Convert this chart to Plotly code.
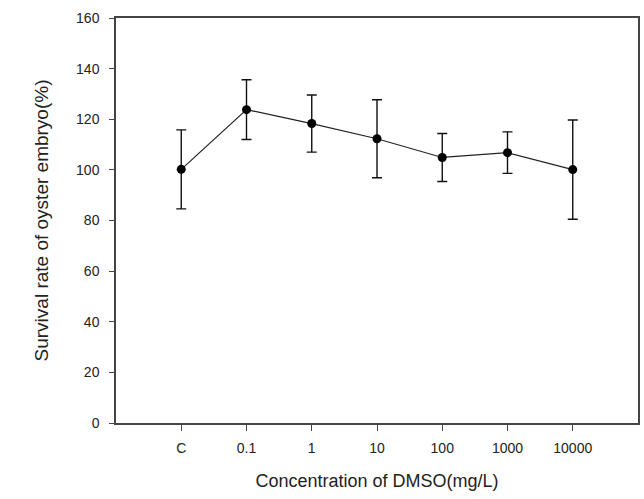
import plotly.graph_objects as go

categories = ["C", "0.1", "1", "10", "100", "1000", "10000"]
survival = [100.2, 123.8, 118.3, 112.3, 104.9, 106.8, 100.1]
err = [15.6, 11.8, 11.3, 15.4, 9.5, 8.2, 19.6]
y_ticks = [0, 20, 40, 60, 80, 100, 120, 140, 160]

font_family = "Liberation Sans, Arial, sans-serif"

fig = go.Figure()
fig.add_trace(go.Scatter(
    x=categories, y=survival,
    mode="lines+markers",
    line=dict(color="#222222", width=1.2),
    marker=dict(color="black", size=9, symbol="circle"),
    error_y=dict(type="data", array=err, visible=True, color="#111111",
                 thickness=1.4, width=5),
    showlegend=False,
))

fig.update_layout(
    width=644, height=499,
    margin=dict(l=116, r=6, t=18, b=76, autoexpand=False),
    paper_bgcolor="white", plot_bgcolor="white",
    font=dict(family=font_family, color="#222222", size=14),
    xaxis=dict(
        type="category", range=[-1, 7],
        showline=True, linecolor="#444444", linewidth=1.5, mirror=True,
        ticks="outside", ticklen=6, tickcolor="#444444", tickwidth=1.2,
        showgrid=False, zeroline=False,
        tickfont=dict(size=14, family=font_family, color="#222222"),
        ticklabelstandoff=5,
        title=dict(text="Concentration of DMSO(mg/L)",
                   font=dict(size=18, family=font_family, color="#222222"),
                   standoff=20),
    ),
    yaxis=dict(
        range=[0, 160], tickvals=y_ticks,
        showline=True, linecolor="#444444", linewidth=1.5, mirror=True,
        ticks="outside", ticklen=5, tickcolor="#444444", tickwidth=1.2,
        showgrid=False, zeroline=False,
        tickfont=dict(size=14, family=font_family, color="#222222"),
        ticklabelstandoff=7,
        title=dict(text="Survival rate of oyster embryo(%)",
                   font=dict(size=19, family=font_family, color="#222222"),
                   standoff=22),
    ),
)

fig.write_html("out.html",
               config={"displayModeBar": False},
               post_script="document.body.style.margin='0';document.body.style.padding='0';")
